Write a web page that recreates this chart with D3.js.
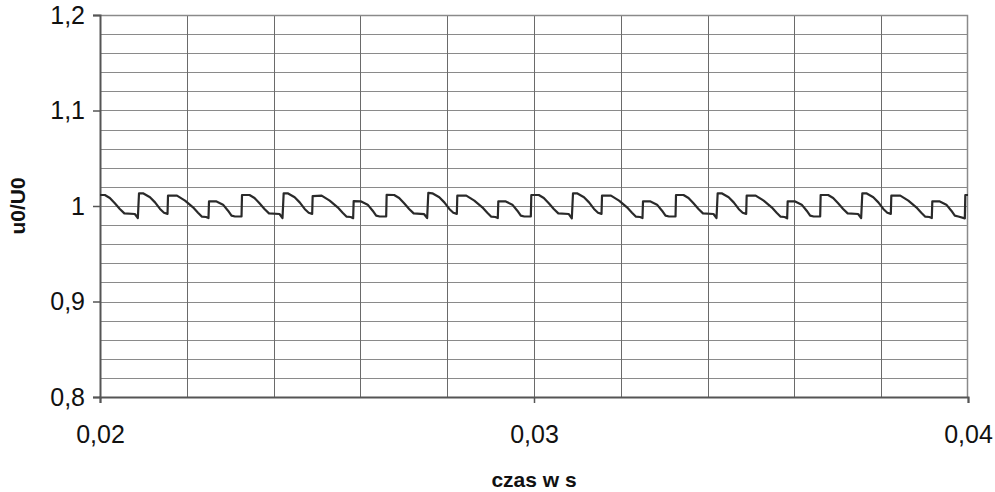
<!DOCTYPE html>
<html>
<head>
<meta charset="utf-8">
<script src="https://cdn.jsdelivr.net/npm/d3@7"></script>
<style>
  html, body { margin: 0; padding: 0; background: #fff; }
  svg { display: block; font-family: "Liberation Sans", Arial, sans-serif; }
</style>
</head>
<body>
<div id="chart"></div>
<script>
// axis settings
const xDomain = [0.02, 0.04];
const yDomain = [0.8, 1.2];
const xTicks = [0.02, 0.03, 0.04];
const yTicks = [0.8, 0.9, 1.0, 1.1, 1.2];
const xGrid = [0.022, 0.024, 0.026, 0.028, 0.03, 0.032, 0.034, 0.036, 0.038];
const yGrid = [0.82, 0.84, 0.86, 0.88, 0.9, 0.92, 0.94, 0.96, 0.98, 1.0,
               1.02, 1.04, 1.06, 1.08, 1.1, 1.12, 1.14, 1.16, 1.18];

// u0/U0 over time [s, value], read segment by segment
const samples = [
  [0.020000, 1.0115], [0.020112, 1.0115], [0.020227, 1.0084], [0.020342, 1.0028], [0.020457, 0.9969], [0.020561, 0.9923], [0.020803, 0.9916], [0.020872, 0.9874],
  // period 1
  [0.020899, 1.0133], [0.020991, 1.0133], [0.021152, 1.0091], [0.021268, 1.0038], [0.021383, 0.9969], [0.021475, 0.9930], [0.021556, 0.9918],
  [0.021567, 1.0108], [0.021774, 1.0108], [0.021959, 1.0056], [0.022143, 0.9986], [0.022258, 0.9930], [0.022350, 0.9888], [0.022443, 0.9885], [0.022500, 0.9874],
  [0.022512, 1.0049], [0.022673, 1.0049], [0.022835, 1.0014], [0.022950, 0.9951], [0.023030, 0.9899], [0.023111, 0.9890], [0.023261, 0.9890],
  [0.023272, 1.0115], [0.023445, 1.0115], [0.023560, 1.0084], [0.023675, 1.0028], [0.023790, 0.9969], [0.023894, 0.9923], [0.024136, 0.9916], [0.024205, 0.9874],
  // period 2
  [0.024232, 1.0133], [0.024324, 1.0133], [0.024485, 1.0091], [0.024601, 1.0038], [0.024716, 0.9969], [0.024808, 0.9930], [0.024889, 0.9918],
  [0.024900, 1.0104], [0.025107, 1.0108], [0.025292, 1.0056], [0.025476, 0.9986], [0.025591, 0.9930], [0.025683, 0.9888], [0.025776, 0.9885], [0.025833, 0.9872],
  [0.025845, 1.0052], [0.026006, 1.0049], [0.026168, 1.0014], [0.026283, 0.9951], [0.026363, 0.9899], [0.026444, 0.9890], [0.026594, 0.9890],
  [0.026605, 1.0118], [0.026778, 1.0115], [0.026893, 1.0084], [0.027008, 1.0028], [0.027123, 0.9969], [0.027227, 0.9923], [0.027469, 0.9914], [0.027538, 0.9874],
  // period 3
  [0.027565, 1.0138], [0.027657, 1.0133], [0.027818, 1.0091], [0.027934, 1.0038], [0.028049, 0.9969], [0.028141, 0.9930], [0.028222, 0.9918],
  [0.028233, 1.0108], [0.028440, 1.0108], [0.028625, 1.0056], [0.028809, 0.9986], [0.028924, 0.9930], [0.029016, 0.9888], [0.029109, 0.9885], [0.029166, 0.9874],
  [0.029178, 1.0049], [0.029339, 1.0049], [0.029501, 1.0014], [0.029616, 0.9951], [0.029696, 0.9899], [0.029777, 0.9890], [0.029927, 0.9890],
  [0.029938, 1.0115], [0.030111, 1.0115], [0.030226, 1.0084], [0.030341, 1.0028], [0.030456, 0.9969], [0.030560, 0.9923], [0.030802, 0.9916], [0.030871, 0.9870],
  // period 4
  [0.030899, 1.0133], [0.030991, 1.0133], [0.031152, 1.0091], [0.031268, 1.0038], [0.031383, 0.9969], [0.031475, 0.9930], [0.031556, 0.9918],
  [0.031567, 1.0108], [0.031774, 1.0108], [0.031959, 1.0056], [0.032143, 0.9986], [0.032258, 0.9930], [0.032350, 0.9888], [0.032443, 0.9885], [0.032500, 0.9874],
  [0.032512, 1.0049], [0.032673, 1.0049], [0.032835, 1.0014], [0.032950, 0.9951], [0.033030, 0.9899], [0.033111, 0.9890], [0.033261, 0.9890],
  [0.033272, 1.0115], [0.033445, 1.0115], [0.033560, 1.0084], [0.033675, 1.0028], [0.033790, 0.9969], [0.033894, 0.9923], [0.034136, 0.9916], [0.034205, 0.9874],
  // period 5
  [0.034232, 1.0133], [0.034324, 1.0133], [0.034485, 1.0091], [0.034601, 1.0038], [0.034716, 0.9969], [0.034808, 0.9930], [0.034889, 0.9918],
  [0.034900, 1.0108], [0.035107, 1.0108], [0.035292, 1.0056], [0.035476, 0.9986], [0.035591, 0.9930], [0.035683, 0.9888], [0.035776, 0.9885], [0.035833, 0.9870],
  [0.035845, 1.0049], [0.036006, 1.0049], [0.036168, 1.0014], [0.036283, 0.9951], [0.036363, 0.9899], [0.036444, 0.9890], [0.036594, 0.9890],
  [0.036605, 1.0115], [0.036778, 1.0115], [0.036893, 1.0084], [0.037008, 1.0028], [0.037123, 0.9969], [0.037227, 0.9923], [0.037469, 0.9916], [0.037538, 0.9874],
  // period 6
  [0.037565, 1.0133], [0.037657, 1.0133], [0.037818, 1.0091], [0.037934, 1.0038], [0.038049, 0.9969], [0.038141, 0.9930], [0.038222, 0.9918],
  [0.038233, 1.0108], [0.038440, 1.0108], [0.038625, 1.0056], [0.038809, 0.9986], [0.038924, 0.9930], [0.039016, 0.9888], [0.039109, 0.9885], [0.039166, 0.9874],
  [0.039178, 1.0049], [0.039339, 1.0049], [0.039501, 1.0014], [0.039616, 0.9951], [0.039696, 0.9899], [0.039777, 0.9890], [0.039927, 0.9870],
  [0.039938, 1.0115], [0.040000, 1.0115]
];

const W = 995, H = 492;
const margin = { top: 15, right: 27, bottom: 95, left: 100 };
const width  = W - margin.left - margin.right,
      height = H - margin.top  - margin.bottom;

const svg = d3.select("#chart").append("svg")
    .attr("width", W)
    .attr("height", H);

const g = svg.append("g")
    .attr("transform", `translate(${margin.left},${margin.top})`);

const x = d3.scaleLinear().domain(xDomain).range([0, width]);
const y = d3.scaleLinear().domain(yDomain).range([height, 0]);

const comma = v => d3.format("~g")(v).replace(".", ",");

// grid
g.append("g")
  .selectAll("line")
  .data(yGrid)
  .join("line")
    .attr("x1", 0).attr("x2", width)
    .attr("y1", d => Math.round(y(d)) + 0.5)
    .attr("y2", d => Math.round(y(d)) + 0.5)
    .attr("stroke", "#8a8a8a")
    .attr("stroke-width", 1);

g.append("g")
  .selectAll("line")
  .data(xGrid)
  .join("line")
    .attr("x1", d => Math.round(x(d)) + 0.5)
    .attr("x2", d => Math.round(x(d)) + 0.5)
    .attr("y1", 0).attr("y2", height)
    .attr("stroke", "#6a6a6a")
    .attr("stroke-width", 1);

// plot frame (top/right)
g.append("path")
    .attr("d", `M0,0.5H${width - 0.5}V${height}`)
    .attr("fill", "none")
    .attr("stroke", "#8a8a8a")
    .attr("stroke-width", 1.5);

// axes
const yAxis = g.append("g")
    .call(d3.axisLeft(y).tickValues(yTicks).tickSize(7).tickPadding(8).tickFormat(comma));
const xAxis = g.append("g")
    .attr("transform", `translate(0,${height})`)
    .call(d3.axisBottom(x).tickValues(xTicks).tickSize(6).tickPadding(22).tickFormat(comma));

[yAxis, xAxis].forEach(a => {
  a.select(".domain").attr("stroke", "#555").attr("stroke-width", 2);
  a.selectAll(".tick line").attr("stroke", "#555").attr("stroke-width", 1.5);
  a.selectAll("text")
    .attr("fill", "#111")
    .style("font-size", "25px")
    .style("font-family", "'Liberation Sans', Arial, sans-serif");
});

// waveform
g.append("path")
    .datum(samples)
    .attr("fill", "none")
    .attr("stroke", "#2a2a2a")
    .attr("stroke-width", 2.2)
    .attr("stroke-linejoin", "round")
    .attr("d", d3.line().x(d => x(d[0])).y(d => y(d[1])));

// axis titles
svg.append("text")
    .attr("x", margin.left + width / 2)
    .attr("y", 487)
    .attr("text-anchor", "middle")
    .style("font-size", "21px")
    .style("font-weight", "bold")
    .attr("fill", "#111")
    .text("czas w s");

svg.append("text")
    .attr("transform", `translate(25,${margin.top + height / 2}) rotate(-90)`)
    .attr("text-anchor", "middle")
    .style("font-size", "21px")
    .style("font-weight", "bold")
    .attr("fill", "#111")
    .text("u0/U0");
</script>
</body>
</html>
